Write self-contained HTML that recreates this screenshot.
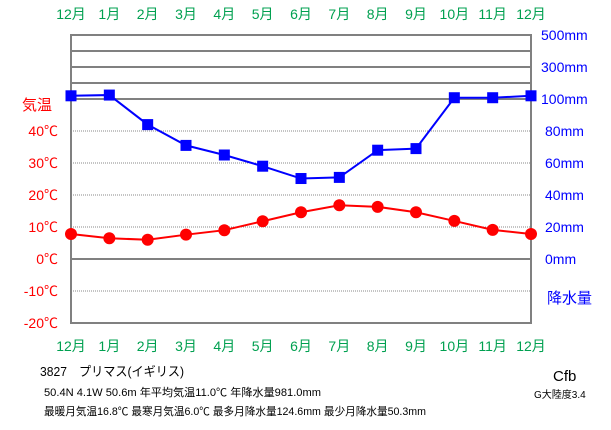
<!DOCTYPE html>
<html><head><meta charset="utf-8"><style>
body{margin:0;background:#fff;font-family:"Liberation Sans","Noto Sans CJK JP",sans-serif}
svg text{font-family:"Liberation Sans","Noto Sans CJK JP",sans-serif}
</style></head><body>
<svg id="c" width="611" height="425" xmlns="http://www.w3.org/2000/svg">
<g id="grid"></g><g id="labels"></g><g id="series"></g>
<text x="40" y="376" font-size="13" fill="#000" textLength="144" lengthAdjust="spacingAndGlyphs">3827　プリマス(イギリス)</text>
<text x="44" y="396" font-size="11" fill="#000" textLength="277" lengthAdjust="spacingAndGlyphs">50.4N  4.1W  50.6m  年平均気温11.0℃  年降水量981.0mm</text>
<text x="44" y="415" font-size="11" fill="#000" textLength="382" lengthAdjust="spacingAndGlyphs">最暖月気温16.8℃ 最寒月気温6.0℃ 最多月降水量124.6mm 最少月降水量50.3mm</text>
<text x="553" y="381" font-size="15" fill="#000">Cfb</text>
<text x="534" y="398" font-size="10" fill="#000">G大陸度3.4</text>
</svg>
<script>
const months=["12月","1月","2月","3月","4月","5月","6月","7月","8月","9月","10月","11月","12月"];
const temps=[7.8,6.5,6.0,7.6,9.0,11.8,14.6,16.8,16.3,14.6,11.9,9.1,7.8];
const precip=[120,124.6,84,71,65,58,50.3,51,68,69,108,108,120];
const tempTicks=[40,30,20,10,0,-10,-20];
const precipTicks=[500,300,100,80,60,40,20,0];
const NS="http://www.w3.org/2000/svg";
const X0=71,X1=531,Y0=259;
function x(i){return X0+i*(X1-X0)/12;}
function yT(t){return Y0-t*3.2;}
function yP(p){return p<=100?Y0-p*1.6:99-(p-100)*0.16;}
function mk(tag,attrs,parent,text){const e=document.createElementNS(NS,tag);for(const k in attrs)e.setAttribute(k,attrs[k]);if(text!==undefined)e.textContent=text;document.getElementById(parent).appendChild(e);return e;}
[35,51,67,83,99].forEach(y=>{const l=mk('line',{x1:X0,x2:X1,y1:y,y2:y,stroke:'#808080','stroke-width':2},'grid');

});
[40,30,20,10,-10].forEach(t=>{const l=mk('line',{x1:X0,x2:X1,y1:yT(t),y2:yT(t),stroke:'#888','stroke-width':1,'stroke-dasharray':'1,1'},'grid');

});
const z=mk('line',{x1:X0,x2:X1,y1:Y0,y2:Y0,stroke:'#808080','stroke-width':2},'grid');


const fr=mk('rect',{x:X0,y:35,width:X1-X0,height:288,fill:'none',stroke:'#808080','stroke-width':2},'grid');


months.forEach((m,i)=>{[19,351].forEach(yy=>{const t=mk('text',{x:x(i),y:yy,'font-size':14,fill:'#00a050','text-anchor':'middle'},'labels',m);

});});
tempTicks.forEach(t=>{const e=mk('text',{x:58,y:yT(t)+5,'font-size':14,fill:'#f00','text-anchor':'end'},'labels',t+'℃');

});
const tt=mk('text',{x:22,y:110,'font-size':15,fill:'#f00'},'labels','気温');


precipTicks.forEach(p=>{const e=mk('text',{x:p>=100?541:545,y:yP(p)+5,'font-size':14,fill:'#00f'},'labels',p+'mm');

});
const pt=mk('text',{x:547,y:303,'font-size':15,fill:'#00f'},'labels','降水量');


const pl=mk('polyline',{points:precip.map((p,i)=>x(i)+','+yP(p)).join(' '),fill:'none',stroke:'#00f','stroke-width':2},'series');


precip.forEach((p,i)=>{const r=mk('rect',{x:x(i)-5.5,y:yP(p)-5.5,width:11,height:11,fill:'#00f'},'series');

});
const tl=mk('polyline',{points:temps.map((t,i)=>x(i)+','+yT(t)).join(' '),fill:'none',stroke:'#f00','stroke-width':2},'series');


temps.forEach((t,i)=>{const c=mk('circle',{cx:x(i),cy:yT(t),r:6,fill:'#f00'},'series');

});
</script>
</body></html>
